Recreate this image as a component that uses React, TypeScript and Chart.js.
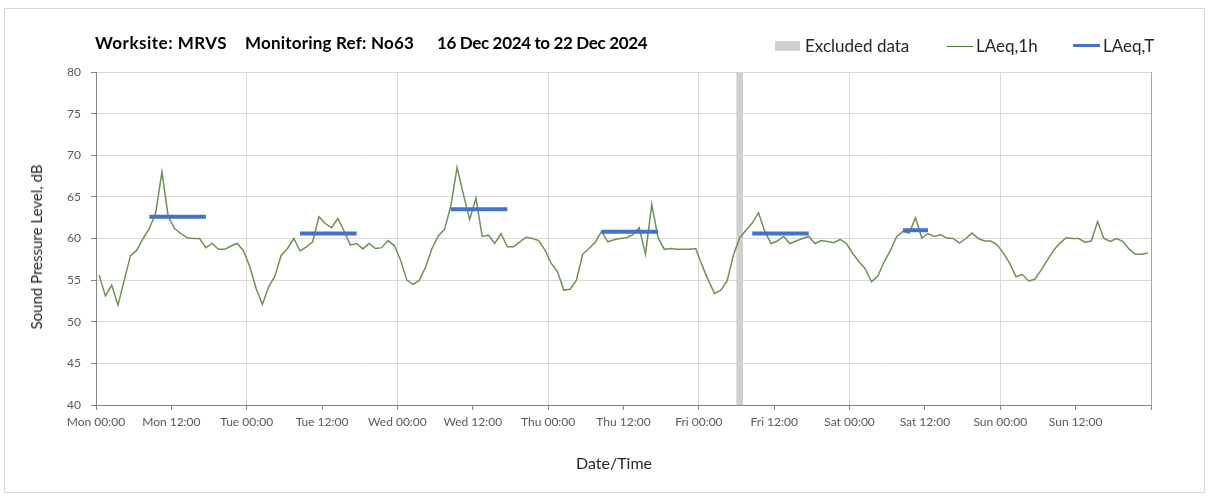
import React, { useEffect, useRef } from 'react';
import { Chart, registerables } from 'chart.js';

Chart.register(...registerables);

// Hourly LAeq,1h values (dB), Mon 00:00 .. Sun 23:00
const laeq1hMon = [55.6, 53.1, 54.4, 52.0, 55.0, 57.95, 58.6, 60.0, 61.2, 63.05, 68.0, 62.65, 61.2, 60.6, 60.1, 60.0, 60.0, 58.9, 59.4, 58.7, 58.7, 59.1, 59.4, 58.5];
const laeq1hTue = [56.6, 54.0, 52.1, 54.2, 55.5, 58.0, 58.8, 60.0, 58.5, 59.0, 59.6, 62.6, 61.8, 61.3, 62.4, 60.9, 59.2, 59.4, 58.75, 59.4, 58.8, 58.9, 59.75, 59.15];
const laeq1hWed = [57.4, 55.0, 54.5, 55.0, 56.6, 58.8, 60.3, 61.1, 63.9, 68.55, 65.3, 62.3, 64.85, 60.25, 60.4, 59.4, 60.6, 59.0, 59.0, 59.6, 60.15, 60.0, 59.75, 58.6];
const laeq1hThu = [57.0, 56.0, 53.8, 53.9, 55.0, 58.1, 58.8, 59.55, 60.85, 59.6, 59.85, 60.0, 60.1, 60.45, 61.3, 58.1, 64.1, 60.1, 58.7, 58.8, 58.7, 58.7, 58.7, 58.8];
const laeq1hFri = [56.8, 55.0, 53.4, 53.8, 54.9, 58.0, 60.1, 61.0, 61.85, 63.1, 60.85, 59.4, 59.7, 60.25, 59.4, 59.7, 60.0, 60.25, 59.4, 59.75, 59.65, 59.5, 59.9, 59.4];
const laeq1hSat = [58.2, 57.2, 56.35, 54.8, 55.5, 57.2, 58.55, 60.25, 60.85, 60.65, 62.5, 60.05, 60.6, 60.25, 60.45, 60.05, 60.0, 59.45, 60.0, 60.65, 60.0, 59.7, 59.7, 59.25];
const laeq1hSun = [58.25, 57.0, 55.4, 55.7, 54.9, 55.1, 56.2, 57.4, 58.6, 59.45, 60.1, 60.0, 60.0, 59.55, 59.7, 62.05, 60.0, 59.65, 60.0, 59.65, 58.75, 58.1, 58.1, 58.25];

// LAeq,T periods (hour index from Mon 00:00)
const laeqTStart = [8, 32, 56, 80, 104, 128];
const laeqTEnd = [17, 41, 65, 89, 113, 132];
const laeqTValues = [62.6, 60.6, 63.5, 60.8, 60.6, 61.0];

// Excluded data hours
const excludedHours = [102];

// Axis
const xTickLabels = ['Mon 00:00', 'Mon 12:00', 'Tue 00:00', 'Tue 12:00', 'Wed 00:00', 'Wed 12:00', 'Thu 00:00', 'Thu 12:00', 'Fri 00:00', 'Fri 12:00', 'Sat 00:00', 'Sat 12:00', 'Sun 00:00', 'Sun 12:00', ''];
const xMin = 0;
const xMax = 168;
const xStep = 12;
const yMin = 40;
const yMax = 80;
const yStep = 5;

const FONT = 'Lato, "Open Sans", sans-serif';

export default function App() {
  const ref = useRef<HTMLCanvasElement | null>(null);

  useEffect(() => {
    const canvas = ref.current;
    if (!canvas) return;
    const laeq1h = [...laeq1hMon, ...laeq1hTue, ...laeq1hWed, ...laeq1hThu, ...laeq1hFri, ...laeq1hSat, ...laeq1hSun];
    const lineData = laeq1h.map((v, i) => ({ x: i + 0.5, y: v }));
    const tData: any[] = [];
    laeqTValues.forEach((v, k) => {
      tData.push({ x: laeqTStart[k] + 0.5, y: v });
      tData.push({ x: laeqTEnd[k] + 0.5, y: v });
      tData.push({ x: laeqTEnd[k] + 1, y: null });
    });
    const exData = excludedHours.map((h) => ({ x: h + 0.5, y: [yMin, yMax] }));
    const xTicks: number[] = [];
    for (let v = xMin; v <= xMax; v += xStep) xTicks.push(v);

    const chart = new Chart(canvas, {
      type: 'line',
      data: {
        datasets: [
          {
            type: 'bar',
            label: 'Excluded data',
            data: exData as any,
            backgroundColor: '#d0d0d0',
            borderWidth: 0,
            barThickness: 6,
            grouped: false,
            order: 3,
          } as any,
          {
            type: 'line',
            label: 'LAeq,1h',
            data: lineData,
            borderColor: '#6f9158',
            borderWidth: 1.5,
            pointRadius: 0,
            tension: 0,
            order: 2,
          },
          {
            type: 'line',
            label: 'LAeq,T',
            data: tData,
            borderColor: '#4472C4',
            borderWidth: 4,
            borderCapStyle: 'butt',
            pointRadius: 0,
            spanGaps: false,
            order: 1,
          },
        ],
      },
      options: {
        responsive: false,
        animation: false,
        layout: { padding: { left: 0, top: 72, right: 57, bottom: 0 } },
        plugins: {
          legend: { display: false },
          tooltip: { enabled: false },
          title: { display: false },
        },
        scales: {
          x: {
            type: 'linear',
            min: xMin,
            max: xMax,
            offset: false,
            afterFit: (s: any) => {
              s.height = 91;
            },
            afterBuildTicks: (s: any) => {
              s.ticks = xTicks.map((v) => ({ value: v }));
            },
            ticks: {
              autoSkip: false,
              maxRotation: 0,
              minRotation: 0,
              padding: 5,
              color: '#595959',
              font: { family: FONT, size: 12 },
              callback: (v: any) => xTickLabels[Math.round(Number(v) / xStep)] ?? '',
            },
            grid: {
              offset: false,
              color: (c: any) => {
                const v = c.tick ? c.tick.value : 0;
                if (v === xMax) return '#a6a6a6';
                return v % 24 === 0 ? '#d9d9d9' : 'rgba(0,0,0,0)';
              },
              lineWidth: 1,
              tickColor: '#868686',
              tickLength: 5,
              drawTicks: true,
            },
            border: { color: '#868686', width: 1 },
          },
          y: {
            type: 'linear',
            min: yMin,
            max: yMax,
            afterFit: (s: any) => {
              s.width = 96;
            },
            ticks: {
              stepSize: yStep,
              padding: 10,
              color: '#595959',
              font: { family: FONT, size: 12 },
            },
            grid: {
              offset: false,
              color: '#d9d9d9',
              lineWidth: 1,
              tickColor: '#868686',
              tickLength: 5,
            },
            border: { color: '#868686', width: 1 },
          },
        },
      },
    });
    return () => chart.destroy();
  }, []);

  const textColor = '#262626';
  const titleStyle: any = { position: 'absolute', top: 33, height: 20, lineHeight: '20px', fontSize: 17, fontWeight: 700, color: '#000', whiteSpace: 'nowrap' };

  return (
    <div style={{ position: 'absolute', left: 0, top: 0, width: 1208, height: 496, background: '#fff', fontFamily: FONT }}>
      <div style={{ position: 'absolute', left: 4, top: 8, width: 1201, height: 485, border: '1px solid #d9d9d9', boxSizing: 'border-box' }} />
      <canvas ref={ref} width={1208} height={496} style={{ position: 'absolute', left: 0, top: 0, width: 1208, height: 496 }} />
      {/* Title */}
      <div style={{ ...titleStyle, left: 95, letterSpacing: 0.5 }}>Worksite: MRVS</div>
      <div style={{ ...titleStyle, left: 245, letterSpacing: 0.2 }}>Monitoring Ref: No63</div>
      <div style={{ ...titleStyle, left: 437, letterSpacing: -0.35 }}>16 Dec 2024 to 22 Dec 2024</div>
      {/* Legend */}
      <div style={{ position: 'absolute', left: 775, top: 41, width: 25, height: 10, background: '#d0d0d0' }} />
      <div style={{ position: 'absolute', left: 805, top: 35, height: 22, lineHeight: '22px', fontSize: 17, color: textColor, whiteSpace: 'nowrap' }}>Excluded data</div>
      <div style={{ position: 'absolute', left: 947, top: 45.5, width: 26, height: 1, background: '#4f7a2e' }} />
      <div style={{ position: 'absolute', left: 976, top: 35, height: 22, lineHeight: '22px', fontSize: 17, color: textColor, whiteSpace: 'nowrap' }}>LAeq,1h</div>
      <div style={{ position: 'absolute', left: 1073, top: 44, width: 27, height: 3, background: '#4472C4' }} />
      <div style={{ position: 'absolute', left: 1103, top: 35, height: 22, lineHeight: '22px', fontSize: 17, color: textColor, whiteSpace: 'nowrap' }}>LAeq,T</div>
      {/* Axis titles */}
      <div style={{ position: 'absolute', left: 36, top: 247, transform: 'translate(-50%, -50%) rotate(-90deg)', fontSize: 15, color: textColor, whiteSpace: 'nowrap', lineHeight: '18px' }}>Sound Pressure Level, dB</div>
      <div style={{ position: 'absolute', left: 614, top: 463, transform: 'translate(-50%, -50%)', fontSize: 16, color: textColor, whiteSpace: 'nowrap', lineHeight: '20px' }}>Date/Time</div>
    </div>
  );
}
